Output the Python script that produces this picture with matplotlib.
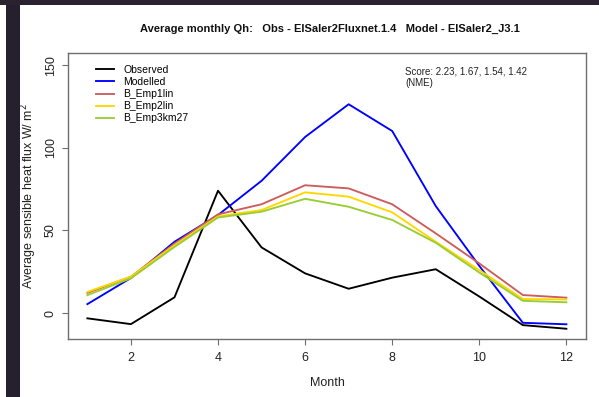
import matplotlib
matplotlib.use('Agg')
import matplotlib.pyplot as plt
from matplotlib.patches import Rectangle

plt.rcParams['font.family'] = ['Liberation Sans', 'DejaVu Sans']

# ── Monthly mean sensible heat flux (W/m2) ────────────────────────────────────
months = [1, 2, 3, 4, 5, 6, 7, 8, 9, 10, 11, 12]
observed = [-3.2, -6.7, 9.5, 74.0, 39.7, 24.0, 14.7, 21.4, 26.5, 10.0, -7.3, -9.5]
modelled = [5.4, 21.2, 43.1, 59.3, 80.0, 106.5, 126.3, 110.1, 64.7, 28.5, -5.9, -6.8]
emp1lin = [12.2, 22.0, 42.0, 59.7, 65.8, 77.3, 75.4, 65.8, 48.2, 30.0, 10.9, 9.3]
emp2lin = [12.8, 22.0, 41.0, 58.5, 62.3, 73.0, 70.4, 60.9, 43.1, 26.0, 8.5, 8.2]
emp3km27 = [10.8, 21.0, 40.0, 57.8, 61.3, 69.1, 64.3, 56.3, 42.5, 24.5, 7.4, 6.5]

series_names = ['Observed', 'Modelled', 'B_Emp1lin', 'B_Emp2lin', 'B_Emp3km27']
series_colors = ['black', 'blue', 'indianred', 'gold', 'yellowgreen']
scores = [2.23, 1.67, 1.54, 1.42]

xticks = [2, 4, 6, 8, 10, 12]
yticks = [0, 50, 100, 150]

W, H = 599, 397
fig = plt.figure(figsize=(W / 100, H / 100), dpi=100)
fig.patch.set_facecolor('white')

# dark window edges around the plot device
fig.patches.append(Rectangle((0, 1 - 5 / H), 1, 5 / H, transform=fig.transFigure,
                             facecolor='#2a2230', edgecolor='none', zorder=0))
fig.patches.append(Rectangle((6 / W, 0), 14 / W, 1 - 5 / H, transform=fig.transFigure,
                             facecolor='#261f2e', edgecolor='none', zorder=0))

ax = fig.add_axes([68 / W, (H - 339) / H, (586 - 68) / W, (339 - 53) / H])

for vals, name, col in zip([observed, modelled, emp1lin, emp2lin, emp3km27],
                           series_names, series_colors):
    ax.plot(months, vals, color=col, linewidth=1.35, label=name)

ax.set_xlim(0.555, 12.45)
ax.set_ylim(-15.7, 157.3)
ax.set_xticks(xticks)
ax.set_yticks(yticks)
ax.set_yticklabels([str(v) for v in yticks], rotation=90, va='center')

for s in ax.spines.values():
    s.set_color('#6e6e6e')
    s.set_linewidth(1.0)
ax.tick_params(axis='both', direction='out', length=4.5, width=0.8,
               color='#6e6e6e', labelsize=9, labelcolor='#222222', pad=5)
ax.tick_params(axis='y', pad=3.5)

ax.set_xlabel('Month', fontsize=9, color='#222222', labelpad=9)
fig.text(29 / W, 1 - 196 / H, 'Average sensible heat flux W/ m$^2$', rotation=90,
         ha='center', va='center', fontsize=9, color='#222222')

fig.text(0.551, 1 - 29 / H,
         'Average monthly Qh:   Obs - ElSaler2Fluxnet.1.4   Model - ElSaler2_J3.1',
         ha='center', va='center', fontsize=8, fontweight='bold', color='#111111')

ax.legend(loc='upper left', bbox_to_anchor=(28 / 518, 1 - 12 / 286), frameon=False,
          fontsize=7.5, handlelength=1.75, handletextpad=0.85, labelspacing=0.2,
          borderaxespad=0, borderpad=0)

fig.text(405 / W, 1 - 67 / H,
         'Score: ' + ', '.join(f'{s:.2f}' for s in scores) + '\n(NME)',
         fontsize=7, va='top', ha='left', color='#222222', linespacing=1.1)

fig.savefig('out.png', dpi=100)
